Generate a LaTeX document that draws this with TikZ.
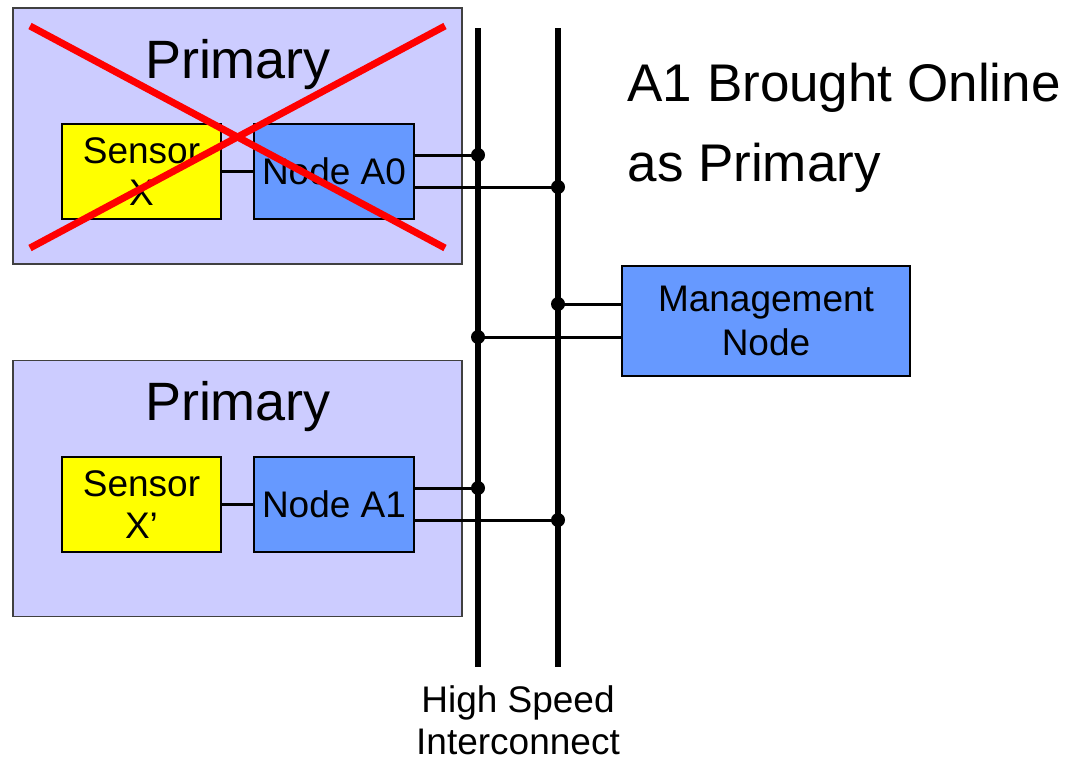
\documentclass[tikz,border=0pt]{standalone}
\usepackage{fontspec}
\setmainfont{Liberation Sans}
\definecolor{groupfill}{RGB}{204,204,255}
\definecolor{nodeblue}{RGB}{102,153,255}
\definecolor{sensoryellow}{RGB}{255,255,0}
\definecolor{crossred}{RGB}{255,0,0}
\begin{document}
\begin{tikzpicture}[x=1pt,y=-1pt,
  group/.style={draw=black!75,line width=1.3pt,fill=groupfill,inner sep=0pt,minimum width=449pt,minimum height=256pt},
  unit/.style={draw=black,line width=1.3pt,inner sep=0pt,align=center,font=\fontsize{37}{42}\selectfont},
  sensorbox/.style={unit,fill=sensoryellow,minimum width=159pt,minimum height=95pt},
  nodebox/.style={unit,fill=nodeblue,minimum width=160pt,minimum height=95pt},
  bus/.style={line width=6pt},
  link/.style={line width=3pt},
  junction/.style={circle,fill=black,inner sep=0pt,minimum size=14pt},
  title/.style={font=\fontsize{54}{56}\selectfont},
  cross/.style={crossred,line width=7pt}]
\useasboundingbox (0,0) rectangle (1068,761);

% node groups
\node[group] (g0) at (237.5,136) {};
\node[group] (g1) at (237.5,488.5) {};
\node[title] (t0) at (238,65) {Primary};
\node[title] (t1) at (238,407) {Primary};

\node[sensorbox] (sx) at (141.5,171.5) {Sensor\\X};
\node[nodebox] (a0) at (334,171.5) {Node A0};
\node[sensorbox] (sx1) at (141.5,504.5) {Sensor\\X’};
\node[nodebox] (a1) at (334,504.5) {Node A1};

% management node
\node[unit,fill=nodeblue,minimum width=288pt,minimum height=110pt] (mg) at (766,321) {Management\\[2pt]Node};

% interconnect buses
\coordinate (b1t) at (478,28);
\coordinate (b1b) at (478,667);
\coordinate (b2t) at (558,28);
\coordinate (b2b) at (558,667);
\draw[bus] (b1t) -- (b1b);
\draw[bus] (b2t) -- (b2b);
\node[align=center,font=\fontsize{37}{42}\selectfont,anchor=north,inner sep=1pt] (hs) at (518,684) {High Speed\\Interconnect};

% bus junctions
\node[junction] (j1) at (478,155) {};
\node[junction] (j2) at (558,187) {};
\node[junction] (j3) at (478,488) {};
\node[junction] (j4) at (558,520) {};
\node[junction] (j5) at (558,304) {};
\node[junction] (j6) at (478,337) {};

% links
\draw[link] (sx.east) -- (a0.west);
\draw[link] (sx1.east) -- (a1.west);
\draw[link] (a0.east |- j1) -- (j1.center);
\draw[link] (a0.east |- j2) -- (j2.center);
\draw[link] (a1.east |- j3) -- (j3.center);
\draw[link] (a1.east |- j4) -- (j4.center);
\draw[link] (mg.west |- j5) -- (j5.center);
\draw[link] (mg.west |- j6) -- (j6.center);

% failed node group crossed out
\coordinate (c1) at (30,26);
\coordinate (c2) at (445,248);
\coordinate (c3) at (30,248);
\coordinate (c4) at (445,26);
\draw[cross] (c1) -- (c2);
\draw[cross] (c3) -- (c4);

% status text
\node[anchor=west,align=left,font=\fontsize{53}{80}\selectfont] (st) at (624,128) {A1 Brought Online\\as Primary};
\end{tikzpicture}
\end{document}
